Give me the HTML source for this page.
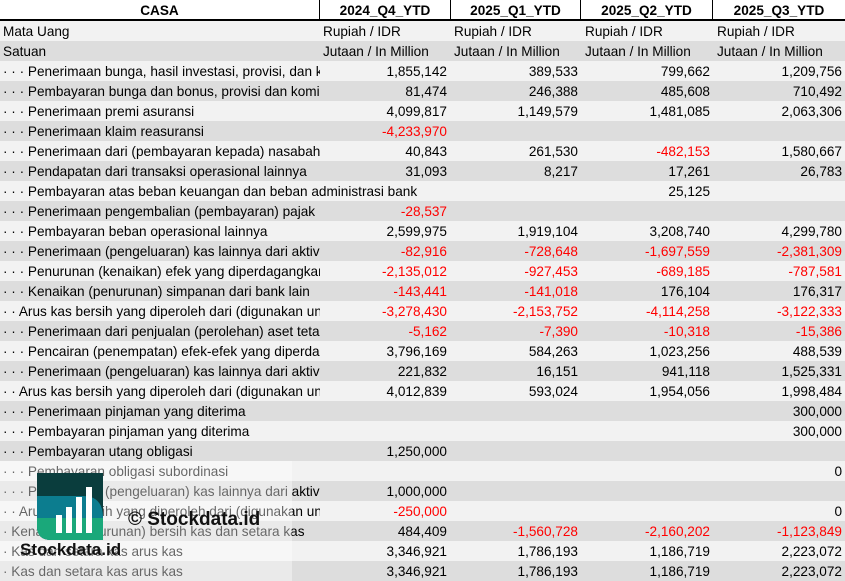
<!DOCTYPE html>
<html><head><meta charset="utf-8"><style>
*{margin:0;padding:0;box-sizing:border-box}
body{width:845px;height:581px;overflow:hidden;background:#fff;font-family:"Liberation Sans",Arial,sans-serif;font-size:13.6px;color:#000;position:relative}
.r{position:absolute;left:0;width:845px;height:20px;line-height:21px;white-space:nowrap}
.l{background:#f2f2f2}.d{background:#dddddd}
.c{position:absolute;top:0;height:20px;overflow:hidden}
.lab{left:3px;width:317px}
.lab.o{width:600px}
.v1{left:320px;width:130px;text-align:right;padding-right:3px}
.v2{left:450px;width:131px;text-align:right;padding-right:3px}
.v3{left:581px;width:132px;text-align:right;padding-right:3px}
.v4{left:713px;width:132px;text-align:right;padding-right:3px}
.t1{left:323px}.t2{left:454px}.t3{left:585px}.t4{left:717px}
.n{color:#ff0000}
.h{position:absolute;top:0;height:20px;line-height:22px;font-weight:bold;text-align:center;border-right:1.5px solid #000}
</style></head><body>
<div class="h" style="left:0;width:320px">CASA</div>
<div class="h" style="left:320px;width:131px">2024_Q4_YTD</div>
<div class="h" style="left:451px;width:130px">2025_Q1_YTD</div>
<div class="h" style="left:581px;width:132px">2025_Q2_YTD</div>
<div class="h" style="left:713px;width:132px;border-right:none">2025_Q3_YTD</div>
<div style="position:absolute;left:0;top:19px;width:845px;height:2px;background:#000"></div>

<div class="r l" style="top:21px"><div class="c lab">Mata Uang</div><div class="c t1">Rupiah / IDR</div><div class="c t2">Rupiah / IDR</div><div class="c t3">Rupiah / IDR</div><div class="c t4">Rupiah / IDR</div></div>
<div class="r d" style="top:41px"><div class="c lab">Satuan</div><div class="c t1">Jutaan / In Million</div><div class="c t2">Jutaan / In Million</div><div class="c t3">Jutaan / In Million</div><div class="c t4">Jutaan / In Million</div></div>

<div class="r l" style="top:61px"><div class="c lab">· · · Penerimaan bunga, hasil investasi, provisi, dan komisi</div><div class="c v1">1,855,142</div><div class="c v2">389,533</div><div class="c v3">799,662</div><div class="c v4">1,209,756</div></div>
<div class="r d" style="top:81px"><div class="c lab">· · · Pembayaran bunga dan bonus, provisi dan komisi</div><div class="c v1">81,474</div><div class="c v2">246,388</div><div class="c v3">485,608</div><div class="c v4">710,492</div></div>
<div class="r l" style="top:101px"><div class="c lab">· · · Penerimaan premi asuransi</div><div class="c v1">4,099,817</div><div class="c v2">1,149,579</div><div class="c v3">1,481,085</div><div class="c v4">2,063,306</div></div>
<div class="r d" style="top:121px"><div class="c lab">· · · Penerimaan klaim reasuransi</div><div class="c v1 n">-4,233,970</div></div>
<div class="r l" style="top:141px"><div class="c lab">· · · Penerimaan dari (pembayaran kepada) nasabah</div><div class="c v1">40,843</div><div class="c v2">261,530</div><div class="c v3 n">-482,153</div><div class="c v4">1,580,667</div></div>
<div class="r d" style="top:161px"><div class="c lab">· · · Pendapatan dari transaksi operasional lainnya</div><div class="c v1">31,093</div><div class="c v2">8,217</div><div class="c v3">17,261</div><div class="c v4">26,783</div></div>
<div class="r l" style="top:181px"><div class="c lab o">· · · Pembayaran atas beban keuangan dan beban administrasi bank</div><div class="c v3">25,125</div></div>
<div class="r d" style="top:201px"><div class="c lab">· · · Penerimaan pengembalian (pembayaran) pajak</div><div class="c v1 n">-28,537</div></div>
<div class="r l" style="top:221px"><div class="c lab">· · · Pembayaran beban operasional lainnya</div><div class="c v1">2,599,975</div><div class="c v2">1,919,104</div><div class="c v3">3,208,740</div><div class="c v4">4,299,780</div></div>
<div class="r d" style="top:241px"><div class="c lab">· · · Penerimaan (pengeluaran) kas lainnya dari aktivitas</div><div class="c v1 n">-82,916</div><div class="c v2 n">-728,648</div><div class="c v3 n">-1,697,559</div><div class="c v4 n">-2,381,309</div></div>
<div class="r l" style="top:261px"><div class="c lab">· · · Penurunan (kenaikan) efek yang diperdagangkan</div><div class="c v1 n">-2,135,012</div><div class="c v2 n">-927,453</div><div class="c v3 n">-689,185</div><div class="c v4 n">-787,581</div></div>
<div class="r d" style="top:281px"><div class="c lab">· · · Kenaikan (penurunan) simpanan dari bank lain</div><div class="c v1 n">-143,441</div><div class="c v2 n">-141,018</div><div class="c v3">176,104</div><div class="c v4">176,317</div></div>
<div class="r l" style="top:301px"><div class="c lab">· · Arus kas bersih yang diperoleh dari (digunakan untuk)</div><div class="c v1 n">-3,278,430</div><div class="c v2 n">-2,153,752</div><div class="c v3 n">-4,114,258</div><div class="c v4 n">-3,122,333</div></div>
<div class="r d" style="top:321px"><div class="c lab">· · · Penerimaan dari penjualan (perolehan) aset tetap</div><div class="c v1 n">-5,162</div><div class="c v2 n">-7,390</div><div class="c v3 n">-10,318</div><div class="c v4 n">-15,386</div></div>
<div class="r l" style="top:341px"><div class="c lab">· · · Pencairan (penempatan) efek-efek yang diperdagangkan</div><div class="c v1">3,796,169</div><div class="c v2">584,263</div><div class="c v3">1,023,256</div><div class="c v4">488,539</div></div>
<div class="r d" style="top:361px"><div class="c lab">· · · Penerimaan (pengeluaran) kas lainnya dari aktivitas</div><div class="c v1">221,832</div><div class="c v2">16,151</div><div class="c v3">941,118</div><div class="c v4">1,525,331</div></div>
<div class="r l" style="top:381px"><div class="c lab">· · Arus kas bersih yang diperoleh dari (digunakan untuk)</div><div class="c v1">4,012,839</div><div class="c v2">593,024</div><div class="c v3">1,954,056</div><div class="c v4">1,998,484</div></div>
<div class="r d" style="top:401px"><div class="c lab">· · · Penerimaan pinjaman yang diterima</div><div class="c v4">300,000</div></div>
<div class="r l" style="top:421px"><div class="c lab">· · · Pembayaran pinjaman yang diterima</div><div class="c v4">300,000</div></div>
<div class="r d" style="top:441px"><div class="c lab">· · · Pembayaran utang obligasi</div><div class="c v1">1,250,000</div></div>
<div class="r l" style="top:461px"><div class="c lab">· · · Pembayaran obligasi subordinasi</div><div class="c v4">0</div></div>
<div class="r d" style="top:481px"><div class="c lab">· · · Penerimaan (pengeluaran) kas lainnya dari aktivitas</div><div class="c v1">1,000,000</div></div>
<div class="r l" style="top:501px"><div class="c lab">· · Arus kas bersih yang diperoleh dari (digunakan untuk)</div><div class="c v1 n">-250,000</div><div class="c v4">0</div></div>
<div class="r d" style="top:521px"><div class="c lab o">· Kenaikan (penurunan) bersih kas dan setara kas</div><div class="c v1">484,409</div><div class="c v2 n">-1,560,728</div><div class="c v3 n">-2,160,202</div><div class="c v4 n">-1,123,849</div></div>
<div class="r l" style="top:541px"><div class="c lab">· Kas dan setara kas arus kas</div><div class="c v1">3,346,921</div><div class="c v2">1,786,193</div><div class="c v3">1,186,719</div><div class="c v4">2,223,072</div></div>
<div class="r d" style="top:561px"><div class="c lab">· Kas dan setara kas arus kas</div><div class="c v1">3,346,921</div><div class="c v2">1,786,193</div><div class="c v3">1,186,719</div><div class="c v4">2,223,072</div></div>

<div style="position:absolute;left:0;top:461px;width:292px;height:120px;background:rgba(255,255,255,0.4)"></div>
<svg style="position:absolute;left:37px;top:473px" width="66" height="67" viewBox="0 0 66 67">
<path d="M0 0H66V67H14Q0 67 0 53Z" fill="#0a3d3d"/>
<path d="M0 23H46Q66 23 66 45V67H14Q0 67 0 53Z" fill="#0c7d8f"/>
<path d="M0 45H66V67H14Q0 67 0 53Z" fill="#1aa87a"/>
<rect x="19" y="42" width="6" height="18" fill="#fff"/><rect x="29" y="34" width="6" height="26" fill="#fff"/><rect x="39" y="24" width="6" height="36" fill="#fff"/><rect x="49" y="14" width="6" height="46" fill="#fff"/>
</svg>
<div style="position:absolute;left:128px;top:509px;font-size:19px;font-weight:bold;color:#111;white-space:nowrap">© Stockdata.id</div>
<div style="position:absolute;left:20px;top:540px;font-size:17px;font-weight:bold;color:#111;white-space:nowrap">Stockdata.id</div>
</body></html>
